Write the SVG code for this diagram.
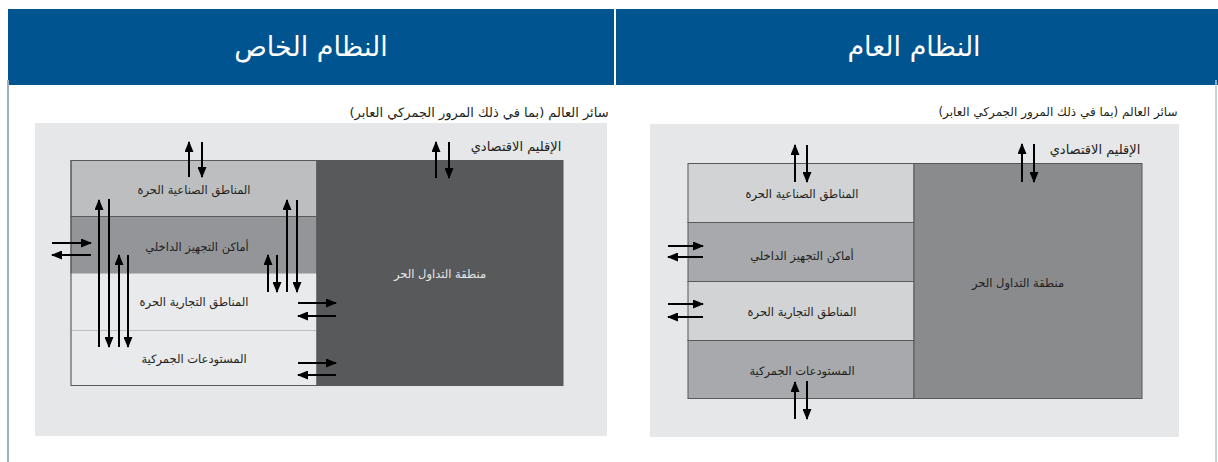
<svg xmlns="http://www.w3.org/2000/svg" width="1218" height="462" viewBox="0 0 1218 462">
<style>
.hdr{fill:#00548f}
.htxt{font-family:"DejaVu Sans",sans-serif;font-size:27px;fill:#ffffff;text-anchor:middle}
.lbl{font-family:"DejaVu Sans",sans-serif;font-size:11.5px;fill:#231f20;text-anchor:middle}
.top{font-family:"DejaVu Sans",sans-serif;font-size:13px;fill:#231f20;text-anchor:middle}
.arr{stroke:#000;stroke-width:2;fill:none;marker-end:url(#ah)}
.bd{stroke:#58595b;stroke-width:1}
</style>
<defs>
<marker id="ah" markerUnits="userSpaceOnUse" markerWidth="11" markerHeight="9" refX="10" refY="4.5" orient="auto">
<path d="M0,0 L11,4.5 L0,9 z" fill="#000"/>
</marker>
</defs>
<rect width="1218" height="462" fill="#fff"/>
<!-- headers -->
<g id="header-special">
<rect class="hdr" x="8" y="9" width="606" height="76"/>
<text class="htxt" x="311" y="56" direction="rtl">النظام الخاص</text>
</g>
<g id="header-general">
<rect class="hdr" x="616" y="9" width="602" height="76"/>
<text class="htxt" x="914" y="56" direction="rtl">النظام العام</text>
</g>
<line x1="8" y1="80" x2="8" y2="462" stroke="#97b3bf" stroke-width="2"/>
<line x1="1216" y1="80" x2="1216" y2="462" stroke="#b7c6cc" stroke-width="1.5"/>

<!-- LEFT PANEL -->
<g id="left-world">
<text class="top" x="479" y="117" direction="rtl">سائر العالم (بما في ذلك المرور الجمركي العابر)</text>
<rect x="35" y="123" width="572" height="313" fill="#e6e7e8"/>
<text class="top" x="516" y="151" direction="rtl">الإقليم الاقتصادي</text>
</g>
<g id="left-industrial">
<rect class="bd" x="71" y="160.5" width="246" height="56" fill="#bcbec0"/>
<text class="lbl" x="194" y="194" direction="rtl">المناطق الصناعية الحرة</text>
</g>
<g id="left-inward">
<rect class="bd" x="71" y="216.5" width="246" height="57" fill="#939598"/>
<text class="lbl" x="197" y="251" direction="rtl">أماكن التجهيز الداخلي</text>
</g>
<g id="left-commercial">
<rect x="71" y="273.5" width="246" height="57" fill="#e9eaeb" stroke="#bcbec0" stroke-width="1"/>
<text class="lbl" x="194" y="306" direction="rtl">المناطق التجارية الحرة</text>
</g>
<g id="left-warehouses">
<rect x="71" y="330.5" width="246" height="55" fill="#e9eaeb" stroke="#bcbec0" stroke-width="1"/>
<text class="lbl" x="194" y="363" direction="rtl">المستودعات الجمركية</text>
</g>
<rect x="71" y="160.5" width="246" height="225" fill="none" stroke="#58595b" stroke-width="1"/>
<g id="left-freecirc">
<rect class="bd" x="317" y="160.5" width="246" height="225" fill="#58595b"/>
<text class="lbl" x="440" y="278" direction="rtl" style="fill:#e6e7e8">منطقة التداول الحر</text>
</g>

<!-- RIGHT PANEL -->
<g id="right-world">
<text class="top" x="1058" y="116" direction="rtl" style="font-size:12px">سائر العالم (بما في ذلك المرور الجمركي العابر)</text>
<rect x="650" y="124" width="529" height="313" fill="#e6e7e8"/>
<text class="top" x="1095" y="154" direction="rtl">الإقليم الاقتصادي</text>
</g>
<g id="right-industrial">
<rect class="bd" x="688" y="163.5" width="226" height="59" fill="#d1d3d4"/>
<text class="lbl" x="802" y="198" direction="rtl">المناطق الصناعية الحرة</text>
</g>
<g id="right-inward">
<rect class="bd" x="688" y="222.5" width="226" height="59" fill="#a7a9ac"/>
<text class="lbl" x="802" y="260" direction="rtl">أماكن التجهيز الداخلي</text>
</g>
<g id="right-commercial">
<rect class="bd" x="688" y="281.5" width="226" height="59" fill="#d1d3d4"/>
<text class="lbl" x="802" y="316" direction="rtl">المناطق التجارية الحرة</text>
</g>
<g id="right-warehouses">
<rect class="bd" x="688" y="340.5" width="226" height="58" fill="#a7a9ac"/>
<text class="lbl" x="802" y="375" direction="rtl">المستودعات الجمركية</text>
</g>
<g id="right-freecirc">
<rect class="bd" x="914" y="163.5" width="228" height="235" fill="#8a8b8d"/>
<text class="lbl" x="1018" y="287" direction="rtl">منطقة التداول الحر</text>
</g>

<!-- CONNECTORS -->
<g id="connectors">
<line class="arr" x1="189" y1="177" x2="189" y2="142"/>
<line class="arr" x1="202" y1="142" x2="202" y2="177"/>
<line class="arr" x1="52" y1="243" x2="91" y2="243"/>
<line class="arr" x1="91" y1="255" x2="52" y2="255"/>
<line class="arr" x1="99" y1="347" x2="99" y2="200"/>
<line class="arr" x1="109" y1="199" x2="109" y2="347"/>
<line class="arr" x1="119" y1="347" x2="119" y2="255"/>
<line class="arr" x1="128" y1="255" x2="128" y2="347"/>
<line class="arr" x1="268" y1="292" x2="268" y2="255"/>
<line class="arr" x1="277" y1="255" x2="277" y2="292"/>
<line class="arr" x1="287" y1="292" x2="287" y2="200"/>
<line class="arr" x1="297" y1="200" x2="297" y2="292"/>
<line class="arr" x1="298" y1="303" x2="336" y2="303"/>
<line class="arr" x1="336" y1="316" x2="298" y2="316"/>
<line class="arr" x1="298" y1="363" x2="336" y2="363"/>
<line class="arr" x1="336" y1="375" x2="298" y2="375"/>
<line class="arr" x1="436" y1="178" x2="436" y2="142"/>
<line class="arr" x1="449" y1="142" x2="449" y2="178"/>

<line class="arr" x1="795" y1="182" x2="795" y2="145"/>
<line class="arr" x1="807" y1="145" x2="807" y2="182"/>
<line class="arr" x1="668" y1="246" x2="703" y2="246"/>
<line class="arr" x1="703" y1="257" x2="668" y2="257"/>
<line class="arr" x1="668" y1="304" x2="703" y2="304"/>
<line class="arr" x1="703" y1="317" x2="668" y2="317"/>
<line class="arr" x1="795" y1="419" x2="795" y2="382"/>
<line class="arr" x1="807" y1="381" x2="807" y2="419"/>
<line class="arr" x1="1022" y1="182" x2="1022" y2="144"/>
<line class="arr" x1="1034" y1="144" x2="1034" y2="182"/>
</g>
</svg>
